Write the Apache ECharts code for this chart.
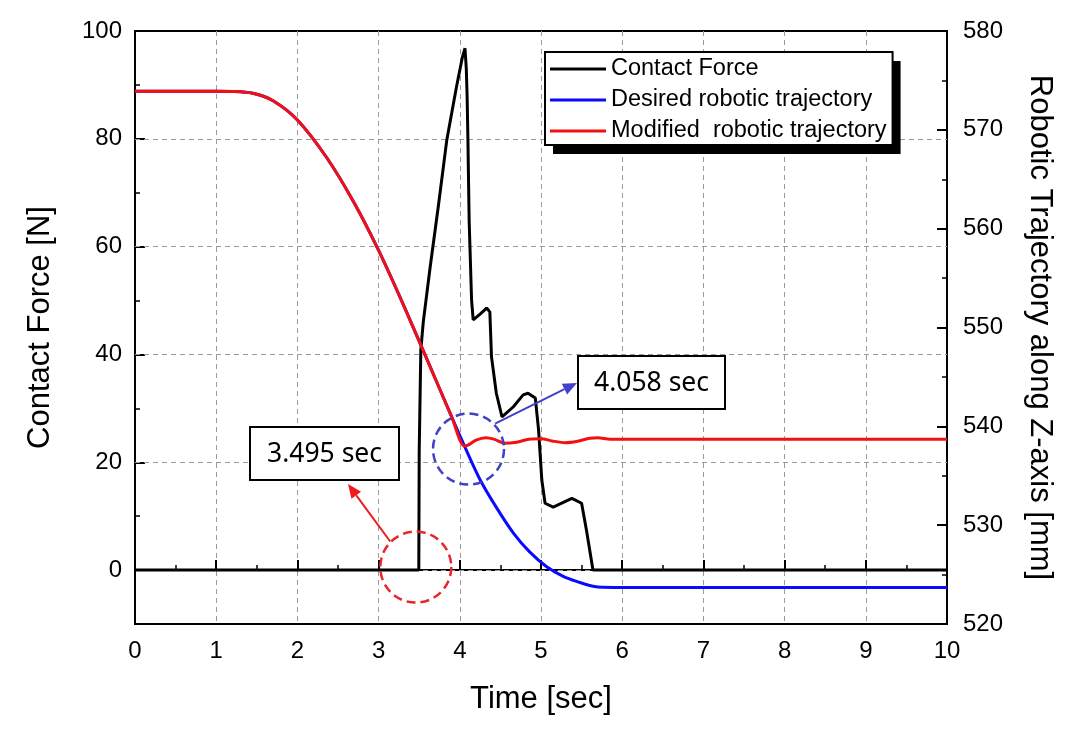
<!DOCTYPE html>
<html><head><meta charset="utf-8">
<script src="https://cdn.jsdelivr.net/npm/echarts@6/dist/echarts.min.js"></script>
<style>html,body{margin:0;padding:0;background:#fff}#c{width:1079px;height:734px}</style>
</head><body><div id="c"></div>
<script>
// ---- data (time [s], value) ----
const seriesNames = ['Contact Force', 'Desired robotic trajectory', 'Modified  robotic trajectory'];
const forceData = [
  [0,0],[3.495,0],[3.50,22],[3.52,40.8],[3.55,46],[3.633,56],[3.74,68],[3.84,79.8],[3.96,89.7],
  [4.03,95],[4.064,96.8],[4.08,93],[4.09,88],[4.10,79.8],[4.115,64.9],[4.145,50.1],[4.165,46.4],
  [4.25,47.5],[4.33,48.6],[4.37,47.9],[4.39,39.6],[4.45,32.8],[4.52,28.4],[4.66,30.3],[4.78,32.5],
  [4.84,32.8],[4.93,31.9],[4.97,26],[5.01,16.7],[5.05,12.4],[5.15,11.7],[5.38,13.3],[5.50,12.4],
  [5.56,7.4],[5.64,0],[10,0]
];
const trajectoryShared = [
  [0,573.9],[1.0,573.9],[1.2,573.88],[1.45,573.7],[1.7,572.95],[2.0,571.0],[2.36,567.2],
  [2.7,562.6],[3.0,557.8],[3.3,552.4],[3.6,546.7],[3.9,540.95],[4.058,538.0]
];
const desiredTail = [
  [4.25,534.6],[4.45,531.8],[4.66,529.2],[4.86,527.3],[5.07,525.8],[5.28,524.8],[5.48,524.2],
  [5.6,523.9],[5.7,523.75],[6.0,523.7],[10,523.7]
];
const modifiedTail = [
  [4.1,538.1],[4.2,538.6],[4.32,538.85],[4.42,538.7],[4.55,538.3],[4.7,538.4],[4.85,538.7],
  [5.0,538.75],[5.15,538.5],[5.3,538.35],[5.45,538.5],[5.6,538.8],[5.7,538.85],[5.85,538.7],[10,538.7]
];
const leftLabelValues = [0,20,40,60,80,100];
const leftMinorTicks = [10,30,50,70,90];
const leftGridValues = [0,20,40,60,80];
const eventTimes = [3.495, 4.058];
const eventLabels = ['3.495 sec', '4.058 sec'];

const FONT = "'Liberation Sans', Arial, sans-serif";
const chart = echarts.init(document.getElementById('c'), null, {renderer:'canvas'});

const legendBase = {
  orient:'vertical', icon:'rect', itemWidth:56, itemHeight:3, itemGap:7,
  padding:[5,6,2,5], selectedMode:false,
  textStyle:{fontFamily:FONT, fontSize:23.5, color:'#000', lineHeight:23},
  data: seriesNames
};

const option = {
  animation: false,
  backgroundColor: '#fff',
  grid: {left:135, right:132, top:31, bottom:110, show:true, borderColor:'#000', borderWidth:2, backgroundColor:'transparent'},
  legend: [
    Object.assign({}, legendBase, {
      left:553, top:61, z:3, backgroundColor:'#000', borderWidth:0,
      textStyle:Object.assign({}, legendBase.textStyle, {color:'rgba(0,0,0,0)'})
    }),
    Object.assign({}, legendBase, {
      left:545, top:52, z:6, backgroundColor:'#fff', borderColor:'#000', borderWidth:2
    })
  ],
  xAxis: {
    type:'value', min:0, max:10, interval:1,
    name:'Time [sec]', nameLocation:'middle', nameGap:60,
    nameTextStyle:{fontFamily:FONT, fontSize:31, color:'#000'},
    axisLine:{lineStyle:{color:'#000', width:2}},
    axisTick:{inside:true, length:10, lineStyle:{color:'#000', width:2}},
    minorTick:{show:true, splitNumber:2, length:5, lineStyle:{color:'#000', width:1.5}},
    splitLine:{show:true, lineStyle:{color:'#9a9a9a', type:[5,4], width:1}},
    axisLabel:{fontFamily:FONT, fontSize:24, color:'#000', margin:15}
  },
  yAxis: [
    {
      type:'value', min:-10, max:100, interval:10, position:'left',
      name:'Contact Force [N]', nameLocation:'middle', nameGap:79, nameRotate:90,
      nameTextStyle:{fontFamily:FONT, fontSize:31, color:'#000'},
      axisLine:{show:true, lineStyle:{color:'#000', width:2}},
      axisTick:{show:true, inside:true, length:10, customValues:leftLabelValues, lineStyle:{color:'#000', width:2}},
      axisLabel:{fontFamily:FONT, fontSize:24, color:'#000', margin:13, customValues:leftLabelValues},
      splitLine:{show:false}
    },
    {
      type:'value', min:520, max:580, interval:10, position:'right',
      name:'Robotic Trajectory along Z-axis [mm]', nameLocation:'middle', nameGap:77, nameRotate:-90,
      nameTextStyle:{fontFamily:FONT, fontSize:31, color:'#000'},
      axisLine:{show:true, lineStyle:{color:'#000', width:2}},
      axisTick:{show:true, inside:true, length:10, lineStyle:{color:'#000', width:2}},
      minorTick:{show:true, splitNumber:2, length:5, lineStyle:{color:'#000', width:1.5}},
      axisLabel:{fontFamily:FONT, fontSize:24, color:'#000', margin:16},
      splitLine:{show:false}
    },
    {
      type:'value', min:-10, max:100, interval:10, position:'left',
      axisLine:{show:false},
      axisTick:{show:true, inside:true, length:5, customValues:leftMinorTicks, lineStyle:{color:'#000', width:1.5}},
      axisLabel:{show:false}, splitLine:{show:false}
    }
  ],
  series: [
    {
      name:'grid', type:'line', data:[], xAxisIndex:0, yAxisIndex:0, silent:true, z:1,
      markLine:{silent:true, symbol:'none', z:1, label:{show:false},
        lineStyle:{color:'#9a9a9a', type:[5,4], width:1},
        data: leftGridValues.map(v => ({yAxis:v}))}
    },
    {
      name:seriesNames[0], type:'line', xAxisIndex:0, yAxisIndex:0, data:forceData,
      showSymbol:false, symbol:'none', z:3,
      lineStyle:{color:'#000', width:3}, itemStyle:{color:'#000'}
    },
    {
      name:seriesNames[1], type:'line', xAxisIndex:0, yAxisIndex:1,
      data: trajectoryShared.concat(desiredTail), smooth:0.3,
      showSymbol:false, symbol:'none', z:4,
      lineStyle:{color:'#0a0aff', width:3}, itemStyle:{color:'#0a0aff'}
    },
    {
      name:seriesNames[2], type:'line', xAxisIndex:0, yAxisIndex:1,
      data: trajectoryShared.concat(modifiedTail), smooth:0.3,
      showSymbol:false, symbol:'none', z:5,
      lineStyle:{color:'#f21010', width:3}, itemStyle:{color:'#f21010'}
    }
  ]
};
chart.setOption(option);

// ---- annotations ----
function arrow(x1, y1, x2, y2, color) {
  const ang = Math.atan2(y2 - y1, x2 - x1);
  const hl = 14, hw = 6;
  const bx = x2 - hl * Math.cos(ang), by = y2 - hl * Math.sin(ang);
  const nx = -Math.sin(ang), ny = Math.cos(ang);
  return [
    {type:'line', z:100, shape:{x1:x1, y1:y1, x2:bx, y2:by}, style:{stroke:color, lineWidth:2}},
    {type:'polygon', z:100, shape:{points:[[x2,y2],[bx+nx*hw, by+ny*hw],[bx-nx*hw, by-ny*hw]]}, style:{fill:color}}
  ];
}
const endMod = trajectoryShared[trajectoryShared.length - 1][1];
const pRed = chart.convertToPixel({xAxisIndex:0, yAxisIndex:0}, [eventTimes[0], 0]);
const pBlue = chart.convertToPixel({xAxisIndex:0, yAxisIndex:1}, [eventTimes[1], endMod]);
const rc = [pRed[0] - 3, pRed[1] - 3], bc = [pBlue[0] + 4, pBlue[1] + 3];
const R = 35.5;
const redCol = '#e8262b', blueCol = '#4040c8';
const graphics = [
  {type:'circle', z:100, shape:{cx:rc[0], cy:rc[1], r:R}, style:{fill:'none', stroke:redCol, lineWidth:2.5, lineDash:[9,5]}},
  {type:'circle', z:100, shape:{cx:bc[0], cy:bc[1], r:R}, style:{fill:'none', stroke:blueCol, lineWidth:2.5, lineDash:[9,5]}},
  {type:'rect', z:100, shape:{x:250, y:427, width:149, height:53}, style:{fill:'#fff', stroke:'#000', lineWidth:2}},
  {type:'text', z:101, x:324.5, y:454, style:{text:eventLabels[0], font:"26.5px 'Noto Sans', sans-serif", fill:'#000', align:'center', verticalAlign:'middle'}},
  {type:'rect', z:100, shape:{x:578, y:356, width:147, height:53}, style:{fill:'#fff', stroke:'#000', lineWidth:2}},
  {type:'text', z:101, x:651.5, y:383, style:{text:eventLabels[1], font:"26.5px 'Noto Sans', sans-serif", fill:'#000', align:'center', verticalAlign:'middle'}}
];
const aRed = arrow(rc[0] - R*0.72, rc[1] - R*0.72, 348, 484, '#ee1c1c');
const aBlue = arrow(bc[0] + R*0.75, bc[1] - R*0.72, 577, 383, blueCol);
chart.setOption({graphic: graphics.concat(aRed, aBlue)});
</script>
</body></html>
